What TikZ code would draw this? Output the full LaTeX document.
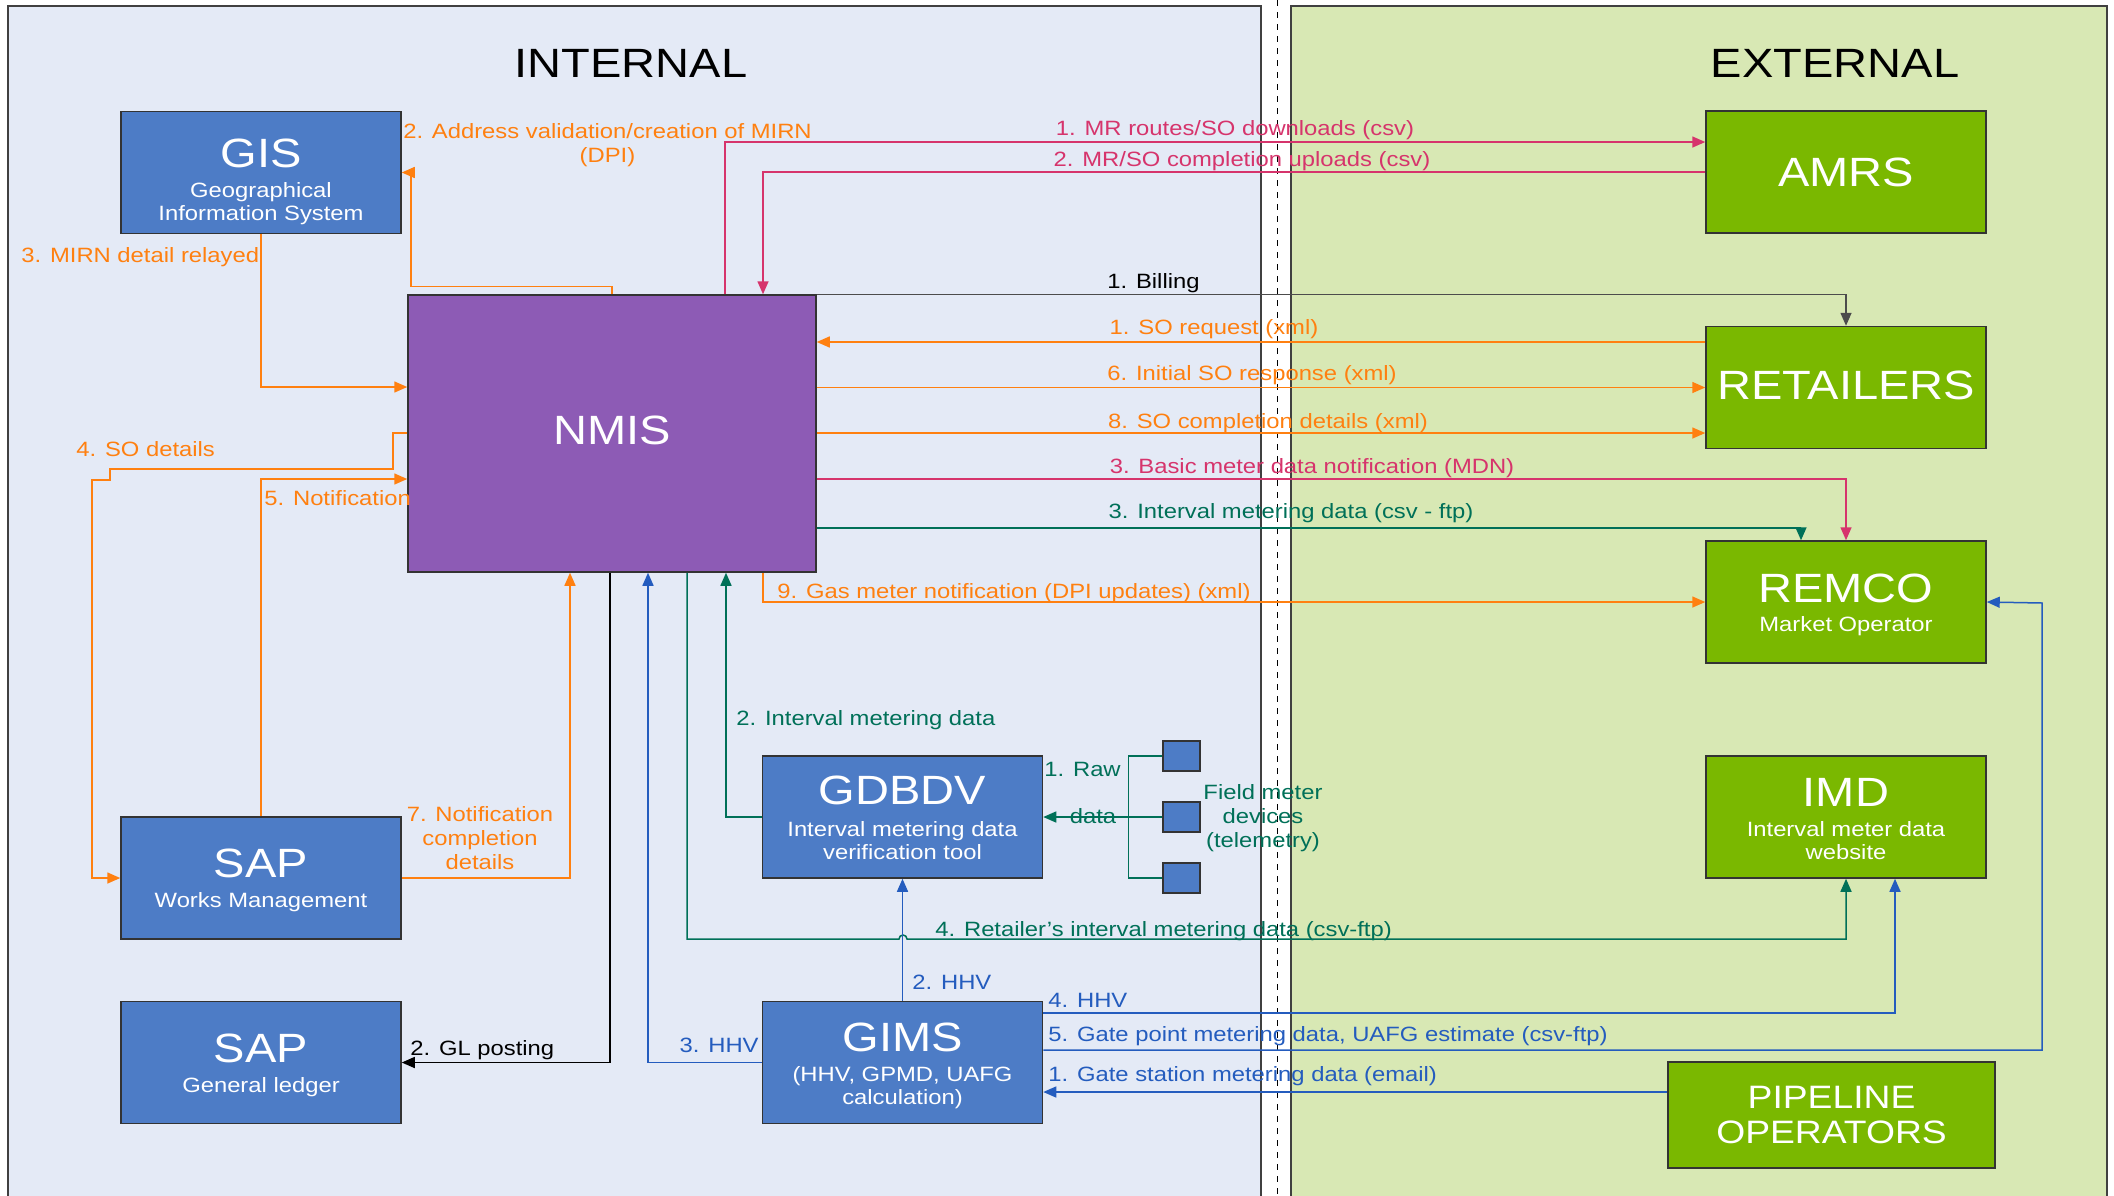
\documentclass[tikz,border=0pt]{standalone}
\usepackage{fontspec}
\setmainfont{Liberation Sans}[FakeStretch=1.15]
\usetikzlibrary{arrows.meta}
\definecolor{inbg}{RGB}{228,234,246}
\definecolor{exbg}{RGB}{216,232,180}
\definecolor{boxblue}{RGB}{77,124,198}
\definecolor{boxpurple}{RGB}{141,91,181}
\definecolor{boxgreen}{RGB}{122,184,0}
\definecolor{lnorange}{RGB}{255,128,16}
\definecolor{lnpink}{RGB}{214,52,108}
\definecolor{lngreen}{RGB}{0,112,88}
\definecolor{lnblue}{RGB}{36,92,190}
\def\internal{(8,6) rectangle (1261,1210)}
\def\external{(1291,6) rectangle (2107,1210)}
\tikzset{
  sysbox/.style={draw=black!80, line width=0.75pt, inner sep=0pt, minimum width=140pt, minimum height=61pt},
  devbox/.style={draw=black!80, line width=0.75pt, inner sep=0pt, fill=boxblue, minimum width=18.5pt, minimum height=15pt},
  ttl/.style={font=\fontsize{20.45}{24}\selectfont, text=white, inner sep=0pt, anchor=base},
  sub/.style={font=\fontsize{10.35}{11.5}\selectfont, text=white, inner sep=0pt, anchor=base, align=center},
  lbl/.style={font=\fontsize{10.35}{12}\selectfont, inner sep=0pt, anchor=base},
  flow/.style={line width=0.75pt, -{Triangle[length=6.5pt,width=5.5pt]}},
  lnor/.style={flow, draw=lnorange},
  lnpk/.style={flow, draw=lnpink},
  lnbk/.style={flow, draw=black},
  lngr/.style={flow, draw=lngreen},
  lnbl/.style={flow, draw=lnblue}
}
\begin{document}
\begin{tikzpicture}[x=0.5pt, y=-0.5pt]
	\useasboundingbox (0,0) rectangle (2114,1195);
	\clip (0,0) rectangle (2114,1195);
	\fill[inbg] \internal;
	\draw[black!75, line width=0.6pt] \internal;
	\fill[exbg] \external;
	\draw[black!75, line width=0.6pt] \external;
	\draw[black, dashed, line width=0.5pt] (1277,0) -- (1277,1195);

	\node[ttl, text=black] (intl) at (631,77.5) {INTERNAL};
	\node[ttl, text=black] (extl) at (1835,77) {EXTERNAL};

	% systems
	\node[sysbox, fill=boxblue] (gis) at (261,172.5) {};
	\node[sysbox, fill=boxpurple, minimum width=204pt, minimum height=138.5pt] (nmis) at (612,433.5) {};
	\node[sysbox, fill=boxblue] (sapwm) at (261,878) {};
	\node[sysbox, fill=boxblue] (sapgl) at (261,1062.5) {};
	\node[sysbox, fill=boxblue] (gdbdv) at (902.5,817) {};
	\node[sysbox, fill=boxblue] (gims) at (902.5,1062.5) {};
	\node[sysbox, fill=boxgreen] (amrs) at (1846,172) {};
	\node[sysbox, fill=boxgreen] (retail) at (1846,387.5) {};
	\node[sysbox, fill=boxgreen] (remco) at (1846,602) {};
	\node[sysbox, fill=boxgreen] (imd) at (1846,817) {};
	\node[sysbox, fill=boxgreen, minimum width=163.5pt, minimum height=53pt] (pipe) at (1831.5,1115) {};
	\node[devbox] (sq1) at (1181.5,756) {};
	\node[devbox] (sq2) at (1181.5,817) {};
	\node[devbox] (sq3) at (1181.5,878) {};

	% texts in the boxes (multi-line: last baseline)
	\node[ttl] (gist) at (261,167.5) {GIS};
	\node[sub] (giss) at (261,220.5) {Geographical\\Information System};
	\node[ttl] (nmist) at (612,444.5) {NMIS};
	\node[ttl] (sapwmt) at (261,877.5) {SAP};
	\node[sub] (sapwms) at (261,907.5) {Works Management};
	\node[ttl] (sapglt) at (261,1062.5) {SAP};
	\node[sub] (sapgls) at (261,1092.5) {General ledger};
	\node[ttl] (gdbdvt) at (902.5,804.5) {GDBDV};
	\node[sub] (gdbdvs) at (902.5,859.5) {Interval metering data\\verification tool};
	\node[ttl] (gimst) at (902.5,1051.5) {GIMS};
	\node[sub] (gimss) at (902.5,1104) {(HHV, GPMD, UAFG\\calculation)};
	\node[ttl] (amrst) at (1846,186) {AMRS};
	\node[ttl] (retailt) at (1846,399.5) {RETAILERS};
	\node[ttl] (remcot) at (1846,602.5) {REMCO};
	\node[sub] (remcos) at (1846,631.5) {Market Operator};
	\node[ttl] (imdt) at (1846,806.5) {IMD};
	\node[sub] (imds) at (1846,859.5) {Interval meter data\\website};
	\node[ttl, font=\fontsize{16.2}{17.5}\selectfont, align=center] (pipet) at (1831.5,1143) {PIPELINE\\OPERATORS};

	% orange flows
	\draw[lnor] (gis.south) |- (nmis.west |- 0,387);
	\draw[lnor] (nmis.north) -- ++(0,-8) -| ([xshift=4.5pt]gis.east) -- (gis.east);
	\draw[lnor] (retail.west |- 0,342) -- (nmis.east |- 0,342);
	\draw[lnor] (nmis.east |- 0,387.5) -- (retail.west |- 0,387.5);
	\draw[lnor] (nmis.east |- 0,433) -- (retail.west |- 0,433);
	\draw[lnor] (nmis.south -| 763,0) |- (remco.west);
	\draw[lnor] (nmis.west |- 0,433) -| (393,469) -| (110,480) -| (92,878) -- (sapwm.west);
	\draw[lnor] (sapwm.north) |- (nmis.west |- 0,479);
	\draw[lnor] (sapwm.east) -| (nmis.south -| 570,0);

	% pink flows
	\draw[lnpk] (nmis.north -| 725,0) |- (amrs.west |- 0,142);
	\draw[lnpk] (amrs.west) -| (nmis.north -| 763,0);
	\draw[lnpk] (nmis.east |- 0,479) -| (remco.north);

	% black flows
	\draw[lnbk, draw=black!70] (nmis.north east) -| (retail.north);
	\draw[lnbk] (nmis.south -| 610,0) |- (sapgl.east);

	% green flows
	\draw[lngr] (nmis.east |- 0,528) -| (remco.north -| 1801,0);
	\draw[lngr] (gdbdv.west) -| (nmis.south -| 726,0);
	\draw[lngr] (sq2.west) -- (gdbdv.east);
	\draw[lngreen, line width=0.75pt] (sq1.west) -- ++(-34,0) |- (sq3.west);
	\draw[lngr] (nmis.south -| 687,0) |- (899,939) arc(180:360:4) -| (imd.south);

	% blue flows
	\draw[lnbl] (gims.north) -- (gdbdv.south);
	\draw[lnbl] (gims.west) -| (nmis.south -| 648,0);
	\draw[lnbl] (gims.east |- 0,1013) -| (imd.south -| 1895,0);
	\draw[lnbl] (gims.east |- 0,1050) -| (2042,603) -- (remco.east);
	\draw[lnbl] (pipe.west |- 0,1092) -- (gims.east |- 0,1092);

	% labels
	\node[lbl, text=lnorange, align=center] (l1) at (607.5,162.5) {2. Address validation/creation of MIRN\\(DPI)};
	\node[lbl, text=lnorange, anchor=base west] (l2) at (21,262.5) {3. MIRN detail relayed};
	\node[lbl, text=lnorange] (l3) at (1214,334.5) {1. SO request (xml)};
	\node[lbl, text=lnorange] (l4) at (1252,380.5) {6. Initial SO response (xml)};
	\node[lbl, text=lnorange] (l5) at (1268,428.5) {8. SO completion details (xml)};
	\node[lbl, text=lnorange, anchor=base west] (l6) at (777,598) {9. Gas meter notification (DPI updates) (xml)};
	\node[lbl, text=lnorange, anchor=base west] (l7) at (76,456.5) {4. SO details};
	\node[lbl, text=lnorange, anchor=base west] (l8) at (264,505.5) {5. Notification};
	\node[lbl, text=lnorange, align=center] (l9) at (480,869.5) {7. Notification\\completion\\details};
	\node[lbl, text=lnpink] (l10) at (1235,135.5) {1. MR routes/SO downloads (csv)};
	\node[lbl, text=lnpink] (l11) at (1242,166) {2. MR/SO completion uploads (csv)};
	\node[lbl, text=lnpink] (l12) at (1312,473) {3. Basic meter data notification (MDN)};
	\node[lbl] (l13) at (1153.5,288) {1. Billing};
	\node[lbl, anchor=base west] (l14) at (410,1055) {2. GL posting};
	\node[lbl, text=lngreen] (l15) at (1291,518) {3. Interval metering data (csv - ftp)};
	\node[lbl, text=lngreen, anchor=base west] (l16) at (736,725.5) {2. Interval metering data};
	\node[lbl, text=lngreen, anchor=base west] (l17) at (1044,776) {1. Raw};
	\node[lbl, text=lngreen] (l18) at (1093,823) {data};
	\node[lbl, text=lngreen, align=center] (l19) at (1263,847.5) {Field meter\\devices\\(telemetry)};
	\node[lbl, text=lngreen, anchor=base west] (l20) at (935,936) {4. Retailer’s interval metering data (csv-ftp)};
	\node[lbl, text=lnblue, anchor=base west] (l21) at (912,989.5) {2. HHV};
	\node[lbl, text=lnblue, anchor=base east] (l22) at (759,1052) {3. HHV};
	\node[lbl, text=lnblue, anchor=base west] (l23) at (1048,1007.5) {4. HHV};
	\node[lbl, text=lnblue, anchor=base west] (l24) at (1048,1041.5) {5. Gate point metering data, UAFG estimate (csv-ftp)};
	\node[lbl, text=lnblue, anchor=base west] (l25) at (1048,1081.5) {1. Gate station metering data (email)};
\end{tikzpicture}
\end{document}
